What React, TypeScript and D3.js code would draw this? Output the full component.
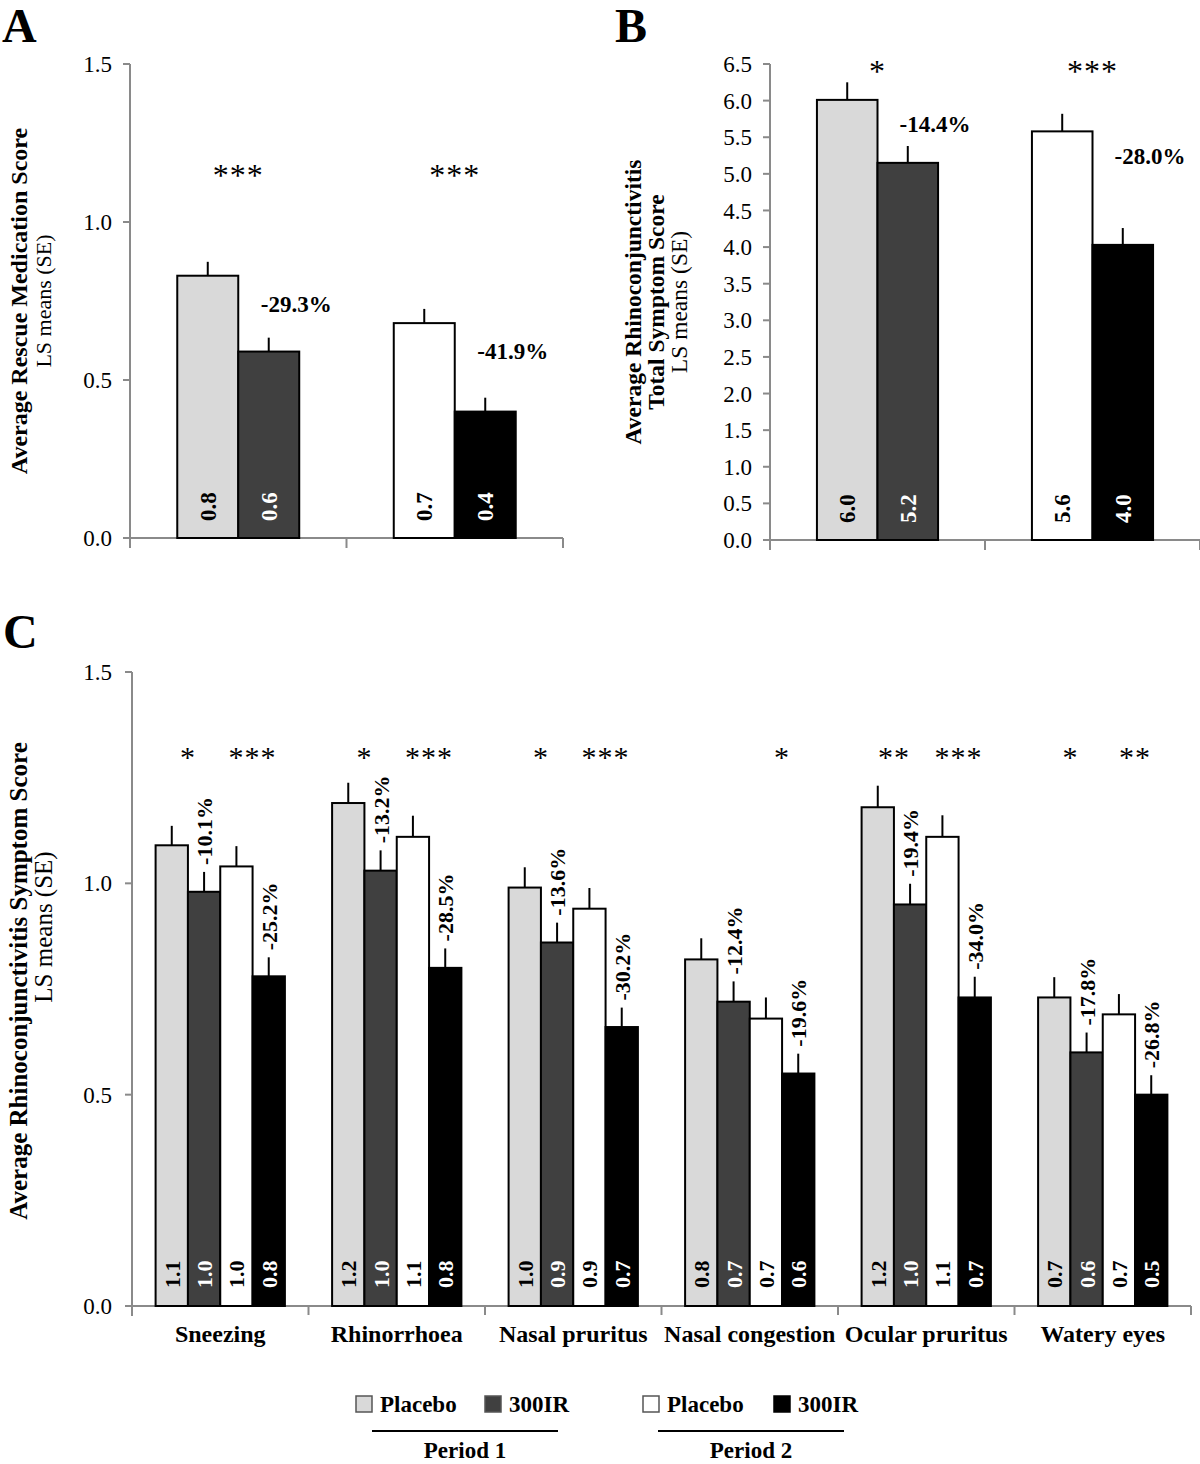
import React from 'react';
import * as d3 from 'd3';

// ---------- Data ----------
const periods = ['Period 1', 'Period 2'];

// Panel A: Average Rescue Medication Score
const aValues = [0.83, 0.59, 0.68, 0.40];
const aSE = [0.044, 0.044, 0.045, 0.044];
const aValueLabels = ['0.8', '0.6', '0.7', '0.4'];
const aPct = ['-29.3%', '-41.9%'];
const aStars = ['***', '***'];
const aTicks = [0, 0.5, 1.0, 1.5];

// Panel B: Average Rhinoconjunctivitis Total Symptom Score
const bValues = [6.01, 5.15, 5.58, 4.03];
const bSE = [0.24, 0.23, 0.24, 0.23];
const bValueLabels = ['6.0', '5.2', '5.6', '4.0'];
const bPct = ['-14.4%', '-28.0%'];
const bStars = ['*', '***'];
const bTicks = [0, 0.5, 1.0, 1.5, 2.0, 2.5, 3.0, 3.5, 4.0, 4.5, 5.0, 5.5, 6.0, 6.5];

// Panel C: Average Rhinoconjunctivitis Symptom Score
const cCategories = ['Sneezing', 'Rhinorrhoea', 'Nasal pruritus', 'Nasal congestion', 'Ocular pruritus', 'Watery eyes'];
const cPlaceboP1 = [1.09, 1.19, 0.99, 0.82, 1.18, 0.73];
const c300IRP1 = [0.98, 1.03, 0.86, 0.72, 0.95, 0.60];
const cPlaceboP2 = [1.04, 1.11, 0.94, 0.68, 1.11, 0.69];
const c300IRP2 = [0.78, 0.80, 0.66, 0.55, 0.73, 0.50];
const cSEPlaceboP1 = [0.046, 0.048, 0.048, 0.050, 0.051, 0.048];
const cSE300IRP1 = [0.047, 0.048, 0.047, 0.048, 0.049, 0.047];
const cSEPlaceboP2 = [0.048, 0.050, 0.049, 0.050, 0.051, 0.048];
const cSE300IRP2 = [0.045, 0.046, 0.046, 0.047, 0.049, 0.046];
const cLabPlaceboP1 = ['1.1', '1.2', '1.0', '0.8', '1.2', '0.7'];
const cLab300IRP1 = ['1.0', '1.0', '0.9', '0.7', '1.0', '0.6'];
const cLabPlaceboP2 = ['1.0', '1.1', '0.9', '0.7', '1.1', '0.7'];
const cLab300IRP2 = ['0.8', '0.8', '0.7', '0.6', '0.7', '0.5'];
const cPctP1 = ['-10.1%', '-13.2%', '-13.6%', '-12.4%', '-19.4%', '-17.8%'];
const cPctP2 = ['-25.2%', '-28.5%', '-30.2%', '-19.6%', '-34.0%', '-26.8%'];
const cStarsP1 = ['*', '*', '*', '', '**', '*'];
const cStarsP2 = ['***', '***', '***', '*', '***', '**'];
const cTicks = [0, 0.5, 1.0, 1.5];

// ---------- Styles ----------
const FONT = '"Liberation Serif", "Times New Roman", Times, serif';
const barFill = ['#d9d9d9', '#404040', '#ffffff', '#000000'];
const labelFill = ['#000', '#fff', '#000', '#fff'];
const AXIS = '#8a8a8a';

type PanelABProps = {
  x0: number; x1: number; yTop: number; yBottom: number; yMax: number;
  values: number[]; se: number[]; valueLabels: string[]; pct: string[]; stars: string[];
  ticks: number[]; starY: number; letter: string; letterX: number;
  titleLines: string[]; titleX: number[]; titleSize: number; subtitle: string; subtitleX: number; subtitleSize: number;
};

function PanelAB(p: PanelABProps) {
  const x = d3.scaleBand<string>().domain(periods).range([p.x0, p.x1]).padding(0);
  const y = d3.scaleLinear().domain([0, p.yMax]).range([p.yBottom, p.yTop]);
  const inner = d3.scaleBand<number>().domain([0, 1]).range([0, x.bandwidth()]).paddingInner(0).paddingOuter(0.775);
  const midY = (p.yTop + p.yBottom) / 2;
  return (
    <g>
      <text x={p.letterX} y={42} fontFamily={FONT} fontWeight="bold" fontSize={48}>{p.letter}</text>
      {/* y axis */}
      <line x1={p.x0} x2={p.x0} y1={p.yTop} y2={p.yBottom + 10} stroke={AXIS} strokeWidth={2} />
      {p.ticks.map((t) => (
        <g key={t}>
          <line x1={p.x0 - 7} x2={p.x0} y1={y(t)} y2={y(t)} stroke={AXIS} strokeWidth={2} />
          <text x={p.x0 - 18} y={y(t)} dy="0.35em" textAnchor="end" fontFamily={FONT} fontSize={23}>{t.toFixed(1)}</text>
        </g>
      ))}
      {/* x axis */}
      <line x1={p.x0} x2={p.x1} y1={p.yBottom} y2={p.yBottom} stroke={AXIS} strokeWidth={2} />
      {[...periods.map((g) => x(g)!), p.x1].map((v, i) => (
        <line key={i} x1={v} x2={v} y1={p.yBottom} y2={p.yBottom + 10} stroke={AXIS} strokeWidth={2} />
      ))}
      {periods.map((g, gi) => {
        const gx = x(g)!;
        return (
          <g key={g}>
            {[0, 1].map((k) => {
              const si = gi * 2 + k;
              const bx = gx + inner(k)!;
              const bw = inner.bandwidth();
              const cx = bx + bw / 2;
              return (
                <g key={k}>
                  <line x1={cx} x2={cx} y1={y(p.values[si])} y2={y(p.values[si] + p.se[si])} stroke="#000" strokeWidth={2} />
                  <rect x={bx} y={y(p.values[si])} width={bw} height={p.yBottom - y(p.values[si])} fill={barFill[si]} stroke="#000" strokeWidth={2} />
                  <text transform={`translate(${cx + 8},${p.yBottom - 17}) rotate(-90)`} fontFamily={FONT} fontWeight="bold" fontSize={23} fill={labelFill[si]}>{p.valueLabels[si]}</text>
                </g>
              );
            })}
            <text x={gx + inner(1)!} y={y(p.starY)} dy="0.5em" textAnchor="middle" fontFamily={FONT} fontSize={32} letterSpacing={1}>{p.stars[gi]}</text>
            <text x={gx + inner(1)! + inner.bandwidth() - 3} y={y(p.values[gi * 2] + p.se[gi * 2]) + 42} dy="0.35em" textAnchor="middle" fontFamily={FONT} fontWeight="bold" fontSize={23}>{p.pct[gi]}</text>
          </g>
        );
      })}
      {p.titleLines.map((t, i) => (
        <text key={i} transform={`translate(${p.titleX[i]},${midY}) rotate(-90)`} textAnchor="middle" fontFamily={FONT} fontWeight="bold" fontSize={p.titleSize}>{t}</text>
      ))}
      <text transform={`translate(${p.subtitleX},${midY}) rotate(-90)`} textAnchor="middle" fontFamily={FONT} fontSize={p.subtitleSize}>{p.subtitle}</text>
    </g>
  );
}

function PanelC() {
  const x0 = 132, x1 = 1191, yTop = 672, yBottom = 1306;
  const x = d3.scaleBand<string>().domain(cCategories).range([x0, x1]).padding(0);
  const y = d3.scaleLinear().domain([0, 1.5]).range([yBottom, yTop]);
  const inner = d3.scaleBand<number>().domain([0, 1, 2, 3]).range([0, x.bandwidth()]).paddingInner(0).paddingOuter(0.73);
  const series = [cPlaceboP1, c300IRP1, cPlaceboP2, c300IRP2];
  const seArr = [cSEPlaceboP1, cSE300IRP1, cSEPlaceboP2, cSE300IRP2];
  const labs = [cLabPlaceboP1, cLab300IRP1, cLabPlaceboP2, cLab300IRP2];
  const midY = (yTop + yBottom) / 2;
  const starY = 1.31;
  return (
    <g>
      <text x={3} y={648} fontFamily={FONT} fontWeight="bold" fontSize={48}>C</text>
      <line x1={x0} x2={x0} y1={yTop} y2={yBottom + 10} stroke={AXIS} strokeWidth={2} />
      {cTicks.map((t) => (
        <g key={t}>
          <line x1={x0 - 7} x2={x0} y1={y(t)} y2={y(t)} stroke={AXIS} strokeWidth={2} />
          <text x={x0 - 20} y={y(t)} dy="0.35em" textAnchor="end" fontFamily={FONT} fontSize={23}>{t.toFixed(1)}</text>
        </g>
      ))}
      <line x1={x0} x2={x1} y1={yBottom} y2={yBottom} stroke={AXIS} strokeWidth={2} />
      {[...cCategories.map((c) => x(c)!), x1].map((v, i) => (
        <line key={i} x1={v} x2={v} y1={yBottom} y2={yBottom + 9} stroke={AXIS} strokeWidth={2} />
      ))}
      {cCategories.map((c, ci) => {
        const gx = x(c)!;
        const bw = inner.bandwidth();
        return (
          <g key={c}>
            {series.map((s, si) => {
              const bx = gx + inner(si)!;
              const cx = bx + bw / 2;
              const v = s[ci];
              const top = y(v + seArr[si][ci]);
              return (
                <g key={si}>
                  <line x1={cx} x2={cx} y1={y(v)} y2={top} stroke="#000" strokeWidth={2} />
                  <rect x={bx} y={y(v)} width={bw} height={yBottom - y(v)} fill={barFill[si]} stroke="#000" strokeWidth={2} />
                  <text transform={`translate(${cx + 8},${yBottom - 18}) rotate(-90)`} fontFamily={FONT} fontWeight="bold" fontSize={22} fill={labelFill[si]}>{labs[si][ci]}</text>
                  {si % 2 === 1 && (
                    <text transform={`translate(${cx + 8},${top - 7}) rotate(-90)`} fontFamily={FONT} fontWeight="bold" fontSize={22}>{si === 1 ? cPctP1[ci] : cPctP2[ci]}</text>
                  )}
                </g>
              );
            })}
            <text x={gx + inner(1)!} y={y(starY)} dy="0.5em" textAnchor="middle" fontFamily={FONT} fontSize={30} letterSpacing={1}>{cStarsP1[ci]}</text>
            <text x={gx + inner(3)!} y={y(starY)} dy="0.5em" textAnchor="middle" fontFamily={FONT} fontSize={30} letterSpacing={1}>{cStarsP2[ci]}</text>
            <text x={gx + x.bandwidth() / 2} y={1342} textAnchor="middle" fontFamily={FONT} fontWeight="bold" fontSize={24}>{c}</text>
          </g>
        );
      })}
      <text transform={`translate(27,${midY - 8}) rotate(-90)`} textAnchor="middle" fontFamily={FONT} fontWeight="bold" fontSize={25}>Average Rhinoconjunctivitis Symptom Score</text>
      <text transform={`translate(52,${midY - 62}) rotate(-90)`} textAnchor="middle" fontFamily={FONT} fontSize={25}>LS means (SE)</text>
    </g>
  );
}

function Legend() {
  const items = [
    { x: 356, label: 'Placebo', si: 0 },
    { x: 485, label: '300IR', si: 1 },
    { x: 643, label: 'Placebo', si: 2 },
    { x: 774, label: '300IR', si: 3 },
  ];
  return (
    <g>
      {items.map((it, i) => (
        <g key={i}>
          <rect x={it.x} y={1396} width={16} height={16} fill={barFill[it.si]} stroke={it.si === 3 ? '#000' : '#555'} strokeWidth={1.5} />
          <text x={it.x + 24} y={1412} fontFamily={FONT} fontWeight="bold" fontSize={23}>{it.label}</text>
        </g>
      ))}
      <line x1={372} x2={558} y1={1431} y2={1431} stroke="#000" strokeWidth={2} />
      <line x1={658} x2={844} y1={1431} y2={1431} stroke="#000" strokeWidth={2} />
      <text x={465} y={1458} textAnchor="middle" fontFamily={FONT} fontWeight="bold" fontSize={23}>{periods[0]}</text>
      <text x={751} y={1458} textAnchor="middle" fontFamily={FONT} fontWeight="bold" fontSize={23}>{periods[1]}</text>
    </g>
  );
}

export default function App() {
  return (
    <svg width={1200} height={1464} style={{ position: 'absolute', left: 0, top: 0, background: '#fff' }}>
      <rect x={0} y={0} width={1200} height={1464} fill="#fff" />
      <PanelAB x0={130} x1={563} yTop={64} yBottom={538} yMax={1.5}
        values={aValues} se={aSE} valueLabels={aValueLabels} pct={aPct} stars={aStars}
        ticks={aTicks} starY={1.165} letter="A" letterX={2}
        titleLines={['Average Rescue Medication Score']} titleX={[27]} titleSize={24}
        subtitle="LS means (SE)" subtitleX={51} subtitleSize={22} />
      <PanelAB x0={770} x1={1200} yTop={64} yBottom={540} yMax={6.5}
        values={bValues} se={bSE} valueLabels={bValueLabels} pct={bPct} stars={bStars}
        ticks={bTicks} starY={6.47} letter="B" letterX={615}
        titleLines={['Average Rhinoconjunctivitis', 'Total Symptom Score']} titleX={[641, 664]} titleSize={23.5}
        subtitle="LS means (SE)" subtitleX={687} subtitleSize={23.5} />
      <PanelC />
      <Legend />
    </svg>
  );
}
